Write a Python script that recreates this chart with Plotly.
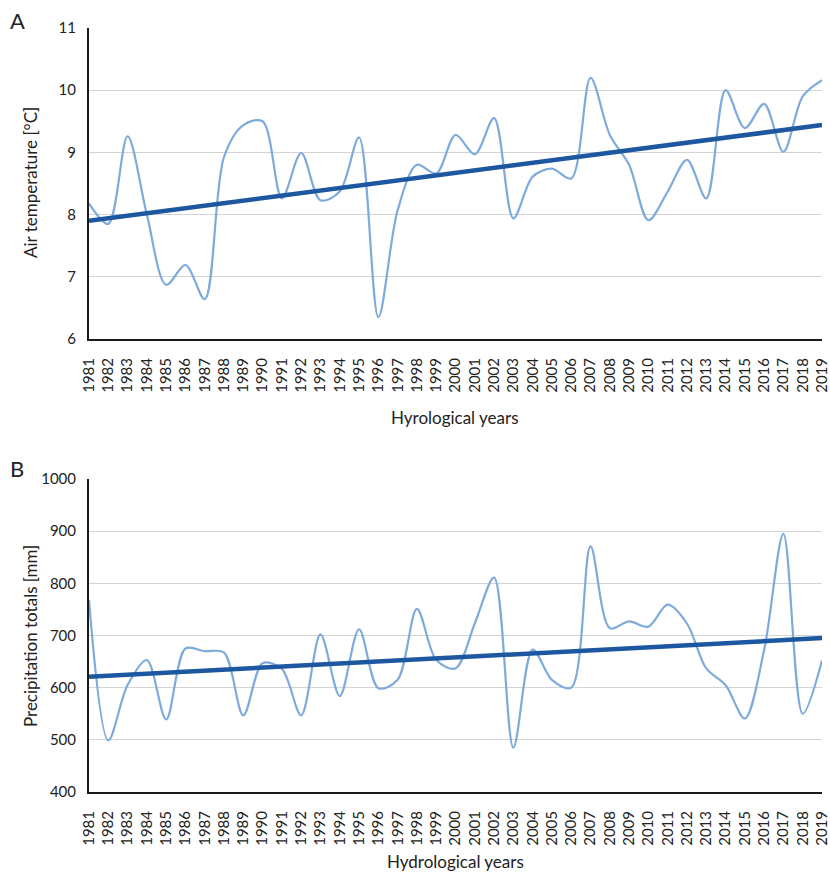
import plotly.graph_objects as go

years = list(range(1981, 2020))

air_temp = [8.18, 7.85, 9.26, 8.00, 6.87, 7.19, 6.64, 8.93, 9.44, 9.50,
            8.26, 8.99, 8.23, 8.37, 9.24, 6.35, 8.07, 8.80, 8.66, 9.28,
            8.97, 9.55, 7.94, 8.61, 8.74, 8.58, 10.20, 9.28, 8.80, 7.91,
            8.37, 8.88, 8.26, 10.00, 9.39, 9.78, 9.01, 9.90, 10.16]

precip = [768, 499, 605, 653, 539, 675, 670, 667, 547, 647,
          636, 547, 702, 584, 712, 599, 615, 751, 653, 637,
          723, 811, 485, 673, 615, 600, 871, 714, 727, 717,
          759, 723, 637, 605, 541, 672, 895, 550, 652]

trend_years = [1981, 2019]
temp_trend = [7.90, 9.44]
precip_trend = [621, 695]

y_temp_ticks = [6, 7, 8, 9, 10, 11]
y_precip_ticks = [400, 500, 600, 700, 800, 900, 1000]

W, H = 830, 876
L, R, T, B = 89, 8, 28, 84
PW = W - L - R
PH = H - T - B
light = "#7eabdc"
dark = "#1c57a0"
font_family = "Lato, 'Open Sans', sans-serif"
txt = "#222222"

fig = go.Figure()
fig.add_trace(go.Scatter(x=years, y=air_temp, mode="lines",
                         line=dict(color=light, width=2.2, shape="spline", smoothing=0.9),
                         xaxis="x", yaxis="y", showlegend=False, cliponaxis=False))
fig.add_trace(go.Scatter(x=trend_years, y=temp_trend, mode="lines",
                         line=dict(color=dark, width=4.5),
                         xaxis="x", yaxis="y", showlegend=False, cliponaxis=False))
fig.add_trace(go.Scatter(x=years, y=precip, mode="lines",
                         line=dict(color=light, width=2.2, shape="spline", smoothing=0.9),
                         xaxis="x2", yaxis="y2", showlegend=False, cliponaxis=False))
fig.add_trace(go.Scatter(x=trend_years, y=precip_trend, mode="lines",
                         line=dict(color=dark, width=4.5),
                         xaxis="x2", yaxis="y2", showlegend=False, cliponaxis=False))

top_dom = [1 - (339 - T) / PH, 1]
bot_dom = [0, (792 - 479) / PH]

xaxis_common = dict(domain=[0, 1], range=[1981, 2019], tickmode="array", tickvals=years,
                    ticktext=[str(y) for y in years], tickangle=-90,
                    showgrid=False, zeroline=False, showline=True, linecolor="#1a1a1a",
                    linewidth=2, ticks="", ticklabelstandoff=11, automargin=False,
                    tickfont=dict(size=15, color=txt, family=font_family))
yaxis_common = dict(showgrid=True, gridcolor="#d4d4d4", gridwidth=1.2, zeroline=False,
                    showline=True, linecolor="#1a1a1a", linewidth=2, ticks="",
                    ticklabelstandoff=8, automargin=False,
                    tickfont=dict(size=15, color=txt, family=font_family))


def px(xp):
    return (xp - L) / PW


def py(yp):
    return 1 - (yp - T) / PH


fig.update_layout(
    width=W, height=H,
    margin=dict(l=L, r=R, t=T, b=B, autoexpand=False),
    paper_bgcolor="white", plot_bgcolor="white",
    font=dict(family=font_family, color=txt),
    xaxis=dict(anchor="y", **xaxis_common),
    yaxis=dict(domain=top_dom, range=[6, 11], tickvals=y_temp_ticks, anchor="x", **yaxis_common),
    xaxis2=dict(anchor="y2", **xaxis_common),
    yaxis2=dict(domain=bot_dom, range=[400, 1000], tickvals=y_precip_ticks, anchor="x2", **yaxis_common),
)

ann = [
    ("A", 8, 21, 0, 22, "left"),
    ("B", 8, 468, 0, 22, "left"),
    ("Air temperature [°C]", 30, 183, -90, 17, "center"),
    ("Precipitation totals [mm]", 30, 636, -90, 17, "center"),
    ("Hyrological years", 455, 417, 0, 17, "center"),
    ("Hydrological years", 455, 861, 0, 17, "center"),
]
for text, xp, yp, ang, size, xa in ann:
    fig.add_annotation(text=text, x=px(xp), y=py(yp), xref="paper", yref="paper",
                       showarrow=False, textangle=ang, xanchor=xa, yanchor="middle",
                       font=dict(size=size, color=txt, family=font_family))

fig.write_html("out.html", config={"displayModeBar": False},
               post_script="document.body.style.margin='0';")
